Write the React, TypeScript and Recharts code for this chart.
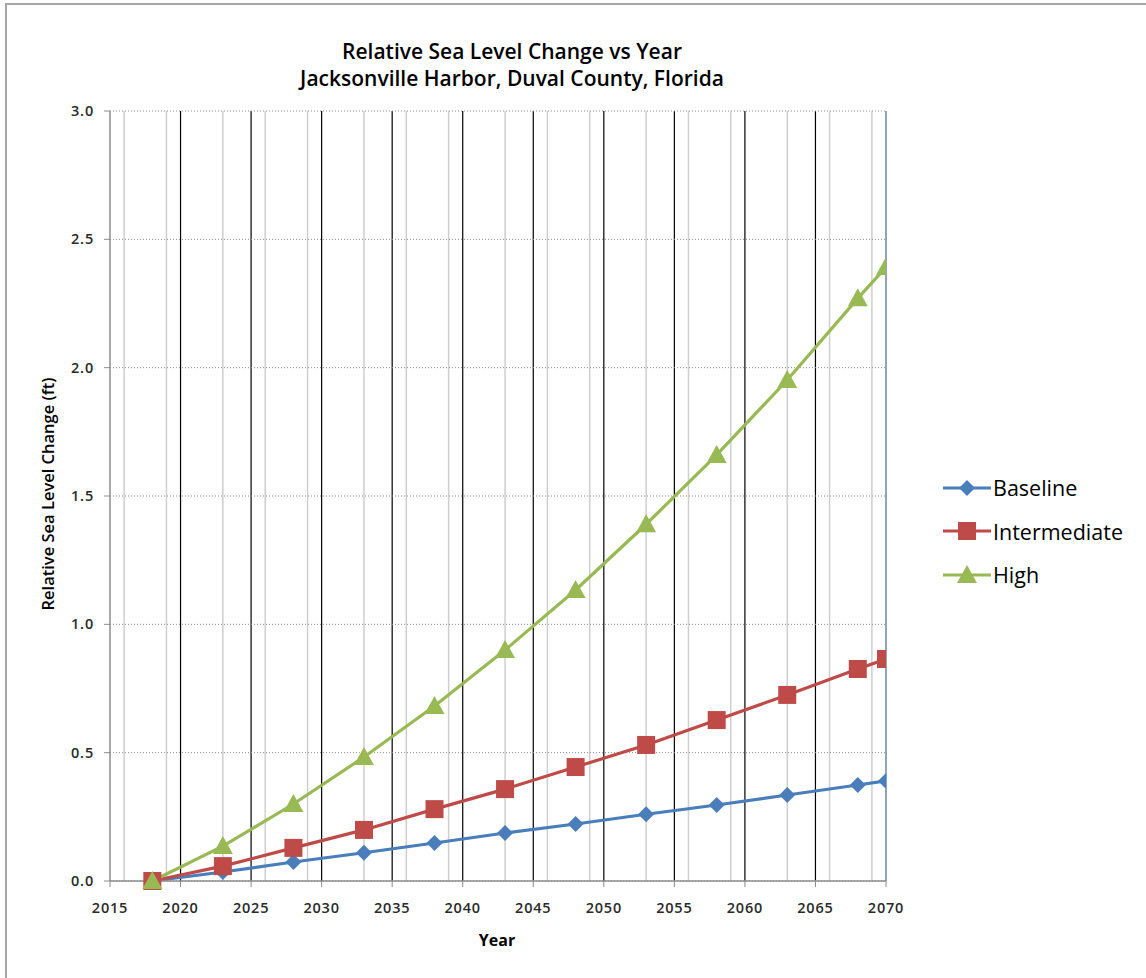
import React from 'react';
import { LineChart, Line, XAxis, YAxis, CartesianGrid, Legend } from 'recharts';

// Projection years and relative sea level change (ft) for each scenario
const years = [2018, 2023, 2028, 2033, 2038, 2043, 2048, 2053, 2058, 2063, 2068, 2070];
const baseline = [0, 0.035, 0.074, 0.11, 0.148, 0.187, 0.222, 0.26, 0.296, 0.335, 0.374, 0.39];
const intermediate = [0, 0.058, 0.129, 0.199, 0.28, 0.358, 0.444, 0.53, 0.627, 0.725, 0.826, 0.865];
const high = [0, 0.136, 0.3, 0.483, 0.682, 0.9, 1.134, 1.39, 1.66, 1.952, 2.27, 2.392];

const seriesNames = ['Baseline', 'Intermediate', 'High'];
const xTicks = [2015, 2020, 2025, 2030, 2035, 2040, 2045, 2050, 2055, 2060, 2065, 2070];
const yTicks = [0, 0.5, 1.0, 1.5, 2.0, 2.5, 3.0];

const data = years.map((year, i) => ({
  year,
  Baseline: baseline[i],
  Intermediate: intermediate[i],
  High: high[i],
}));

// every single year gets a light gridline, every fifth a dark one
const minorYears: number[] = [];
for (let y = 2016; y < 2070; y++) if (y % 5 !== 0) minorYears.push(y);
const majorYears = xTicks.filter((y) => y !== 2015 && y !== 2070);

const BLUE = '#4a7ebb';
const RED = '#be4b48';
const GREEN = '#98b954';
const FONT = '"Open Sans", Lato, sans-serif';

const Diamond = ({ cx, cy, fill }: any) => (
  <path d={`M${cx},${cy - 8}L${cx + 8},${cy}L${cx},${cy + 8}L${cx - 8},${cy}Z`} fill={fill} />
);
const Square = ({ cx, cy, fill }: any) => (
  <rect x={cx - 9} y={cy - 9} width={18} height={18} fill={fill} />
);
const Triangle = ({ cx, cy, fill }: any) => (
  <path d={`M${cx},${cy - 10}L${cx + 10},${cy + 8}L${cx - 10},${cy + 8}Z`} fill={fill} />
);

const markerFor: Record<string, any> = { Baseline: Diamond, Intermediate: Square, High: Triangle };

const renderLegend = (props: any) => {
  const items = [...props.payload].sort(
    (a: any, b: any) => seriesNames.indexOf(a.value) - seriesNames.indexOf(b.value)
  );
  return (
    <div>
      {items.map((entry: any) => {
        const Marker = markerFor[entry.value];
        return (
          <div key={entry.value} style={{ display: 'flex', alignItems: 'center', height: 43.5 }}>
            <svg width={50} height={22}>
              <line x1={1} y1={11} x2={49} y2={11} stroke={entry.color} strokeWidth={3} />
              <Marker cx={25} cy={11} fill={entry.color} />
            </svg>
            <span style={{ fontFamily: FONT, fontSize: 21.5, color: '#000', marginLeft: 1 }}>{entry.value}</span>
          </div>
        );
      })}
    </div>
  );
};

const tickStyle = { fontFamily: FONT, fontSize: 14.5, fill: '#2a2a2a', fontWeight: 600, letterSpacing: 0.8 };

export default function App() {
  return (
    <div
      style={{
        position: 'absolute',
        left: 0,
        top: 0,
        width: 1146,
        height: 978,
        overflow: 'hidden',
        background: '#fff',
      }}
    >
      <div
        style={{
          position: 'absolute',
          left: 5,
          top: 3,
          width: 1200,
          height: 1100,
          border: '2px solid #a6a6a6',
        }}
      />
      <div style={{ position: 'absolute', left: 0, top: 0 }}>
        <LineChart width={1146} height={978} data={data} margin={{ top: 111, right: 56, left: 0, bottom: 0 }}>
          <CartesianGrid horizontal={false} verticalValues={minorYears} stroke="#cfcfcf" strokeWidth={1.5} />
          <CartesianGrid horizontal={false} verticalValues={majorYears} stroke="#000" strokeWidth={1.2} />
          <CartesianGrid horizontal={false} verticalValues={[2070]} stroke="#6f84a0" strokeWidth={1.5} />
          <CartesianGrid vertical={false} horizontalValues={yTicks} stroke="#8c8c8c" strokeDasharray="1 2" />
          <XAxis
            dataKey="year"
            type="number"
            domain={[2015, 2070]}
            ticks={xTicks}
            height={97}
            axisLine={{ stroke: '#8c8c8c', strokeWidth: 1.5 }}
            tickLine={{ stroke: '#8c8c8c' }}
            tickSize={6}
            tickMargin={16}
            tick={tickStyle}
            allowDataOverflow
          />
          <YAxis
            type="number"
            domain={[0, 3]}
            ticks={yTicks}
            width={110}
            axisLine={{ stroke: '#8c8c8c', strokeWidth: 1.5 }}
            tickLine={{ stroke: '#8c8c8c' }}
            tickSize={6}
            tickMargin={10}
            tickFormatter={(v: number) => v.toFixed(1)}
            tick={tickStyle}
          />
          <Legend
            layout="vertical"
            align="right"
            verticalAlign="middle"
            content={renderLegend}
            wrapperStyle={{ left: 942, top: 466, width: 204 }}
          />
          <Line
            dataKey="Baseline"
            stroke={BLUE}
            strokeWidth={3.2}
            dot={(p: any) => <Diamond key={p.index} cx={p.cx} cy={p.cy} fill={BLUE} />}
            isAnimationActive={false}
          />
          <Line
            dataKey="Intermediate"
            stroke={RED}
            strokeWidth={3.2}
            dot={(p: any) => <Square key={p.index} cx={p.cx} cy={p.cy} fill={RED} />}
            isAnimationActive={false}
          />
          <Line
            dataKey="High"
            stroke={GREEN}
            strokeWidth={3.2}
            dot={(p: any) => <Triangle key={p.index} cx={p.cx} cy={p.cy} fill={GREEN} />}
            isAnimationActive={false}
          />
        </LineChart>
      </div>
      <svg
        width={1146}
        height={978}
        style={{ position: 'absolute', left: 0, top: 0, pointerEvents: 'none' }}
      >
        <text x={512} y={59} textAnchor="middle" fontFamily={FONT} fontSize={21} fontWeight={600} fill="#000">
          Relative Sea Level Change vs Year
        </text>
        <text x={512} y={86} textAnchor="middle" fontFamily={FONT} fontSize={21} fontWeight={600} fill="#000">
          Jacksonville Harbor, Duval County, Florida
        </text>
        <text x={497} y={946} textAnchor="middle" fontFamily={FONT} fontSize={16} fontWeight="bold" fill="#000">
          Year
        </text>
        <text
          x={54}
          y={494}
          textAnchor="middle"
          transform="rotate(-90, 54, 494)"
          fontFamily={FONT}
          fontSize={16.5}
          fontWeight={600}
          fill="#000"
        >
          Relative Sea Level Change (ft)
        </text>
      </svg>
    </div>
  );
}
